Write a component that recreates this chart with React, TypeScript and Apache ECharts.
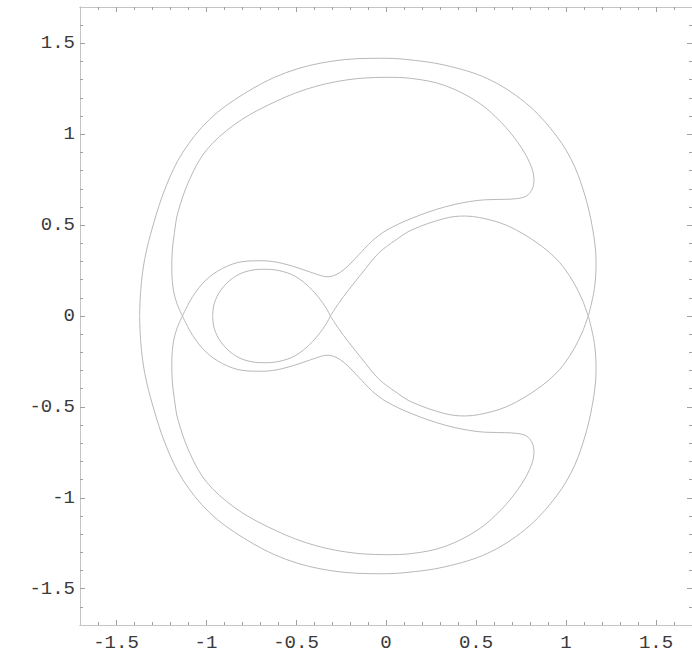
import { useEffect, useRef } from "react";
import * as echarts from "echarts";

// Tick positions and their printed labels
const majorTicks = [-1.5, -1, -0.5, 0, 0.5, 1, 1.5];
const tickLabels = ["-1.5", "-1", "-0.5", "0", "0.5", "1", "1.5"];
const minorTicks = [
  -1.6, -1.4, -1.3, -1.2, -1.1, -0.9, -0.8, -0.7, -0.6, -0.4, -0.3, -0.2, -0.1,
  0.1, 0.2, 0.3, 0.4, 0.6, 0.7, 0.8, 0.9, 1.1, 1.2, 1.3, 1.4, 1.6,
];

// Upper halves of the level curves (the figure is symmetric about y = 0)
// Outer contour: right saddle -> over the top -> leftmost point
const outerUpper: [number, number][] = [
  [1.124, 0], [1.157, 0.146], [1.167, 0.295], [1.147, 0.485], [1.1, 0.68],
  [1.027, 0.865], [0.916, 1.03], [0.769, 1.178], [0.566, 1.305], [0.327, 1.38],
  [0.106, 1.412], [-0.03, 1.418], [-0.3, 1.402], [-0.558, 1.338], [-0.79, 1.222],
  [-0.982, 1.08], [-1.129, 0.9], [-1.221, 0.716], [-1.295, 0.496], [-1.341, 0.31],
  [-1.362, 0.15], [-1.369, 0],
];

// Inner contour: left saddle -> over the top -> hook -> back along the lower edge
const innerUpper: [number, number][] = [
  [-1.131, 0], [-1.162, 0.07], [-1.181, 0.143], [-1.19, 0.25], [-1.188, 0.35],
  [-1.175, 0.46], [-1.157, 0.566], [-1.092, 0.75], [-0.998, 0.912], [-0.845, 1.051],
  [-0.666, 1.155], [-0.445, 1.247], [-0.224, 1.298], [-0.003, 1.313], [0.142, 1.307],
  [0.327, 1.268], [0.511, 1.176], [0.64, 1.065], [0.732, 0.955], [0.797, 0.846],
  [0.822, 0.752], [0.813, 0.7], [0.78, 0.66], [0.72, 0.645], [0.658, 0.642],
  [0.511, 0.636], [0.327, 0.6], [0.142, 0.537], [0.0, 0.47], [-0.08, 0.41],
  [-0.153, 0.335], [-0.226, 0.262], [-0.281, 0.226], [-0.328, 0.216], [-0.374, 0.226],
  [-0.466, 0.257], [-0.577, 0.29], [-0.687, 0.304], [-0.798, 0.299], [-0.908, 0.262],
  [-1.0, 0.198], [-1.074, 0.107], [-1.131, 0],
];

// Small loop: central saddle -> top -> leftmost point
const loopUpper: [number, number][] = [
  [-0.309, 0], [-0.337, 0.051], [-0.41, 0.143], [-0.502, 0.217], [-0.595, 0.25],
  [-0.687, 0.257], [-0.779, 0.244], [-0.853, 0.207], [-0.917, 0.143], [-0.954, 0.07],
  [-0.963, 0],
];

// Right oval: central saddle -> top -> right saddle
const ovalUpper: [number, number][] = [
  [-0.309, 0], [-0.263, 0.07], [-0.208, 0.143], [-0.134, 0.235], [-0.042, 0.345],
  [0.05, 0.415], [0.142, 0.473], [0.327, 0.537], [0.437, 0.55], [0.603, 0.522],
  [0.72, 0.475], [0.843, 0.4], [0.935, 0.325], [0.99, 0.263], [1.045, 0.18],
  [1.091, 0.088], [1.123, 0],
];

const curveColor = "#b8b8b8";
const frameColor = "#c4c4c4";
const tickColor = "#a0a0a0";
const labelColor = "#3a3a3a";
const monoFont = "'Liberation Mono', 'DejaVu Sans Mono', monospace";

const labelFor = (v: number) => {
  const i = majorTicks.findIndex((t) => Math.abs(t - v) < 1e-6);
  return i >= 0 ? tickLabels[i] : "";
};

// reflection of an upper-half curve into the lower half
const mirror = (pts: [number, number][]) => pts.map(([x, y]) => [x, -y]);

function makeAxis(position: string, major: boolean, labels: boolean, margin = 6) {
  return {
    type: "value",
    min: -1.7,
    max: 1.7,
    position,
    axisLine: { show: true, onZero: false, lineStyle: { color: frameColor, width: 1 } },
    splitLine: { show: false },
    axisTick: {
      show: true,
      inside: true,
      length: major ? 5 : 3,
      customValues: major ? majorTicks : minorTicks,
      lineStyle: { color: tickColor, width: 1 },
    },
    axisLabel: labels
      ? {
          show: true,
          customValues: majorTicks,
          formatter: (v: number) => labelFor(v),
          fontFamily: monoFont,
          fontSize: 19,
          color: labelColor,
          margin,
        }
      : { show: false },
  };
}

export default function App() {
  const ref = useRef<HTMLDivElement>(null);

  useEffect(() => {
    if (!ref.current) return;
    const chart = echarts.init(ref.current, undefined, { renderer: "svg" });

    const curves = [outerUpper, innerUpper, loopUpper, ovalUpper];
    const series: any[] = [];
    curves.forEach((pts) => {
      [pts, mirror(pts)].forEach((data) => {
        series.push({
          type: "line",
          data,
          xAxisIndex: 0,
          yAxisIndex: 0,
          symbol: "none",
          smooth: 0.35,
          lineStyle: { color: curveColor, width: 1 },
          silent: true,
        });
      });
    });

    chart.setOption({
      animation: false,
      backgroundColor: "#ffffff",
      grid: { left: 80, top: 7, width: 615, height: 618, containLabel: false },
      xAxis: [
        makeAxis("bottom", true, true, 8),
        makeAxis("bottom", false, false),
        makeAxis("top", true, false),
        makeAxis("top", false, false),
      ],
      yAxis: [
        makeAxis("left", true, true, 5),
        makeAxis("left", false, false),
        makeAxis("right", true, false),
        makeAxis("right", false, false),
      ],
      series,
    });

    return () => chart.dispose();
  }, []);

  return (
    <div
      ref={ref}
      style={{ position: "absolute", left: 0, top: 0, width: 692, height: 652 }}
    />
  );
}
